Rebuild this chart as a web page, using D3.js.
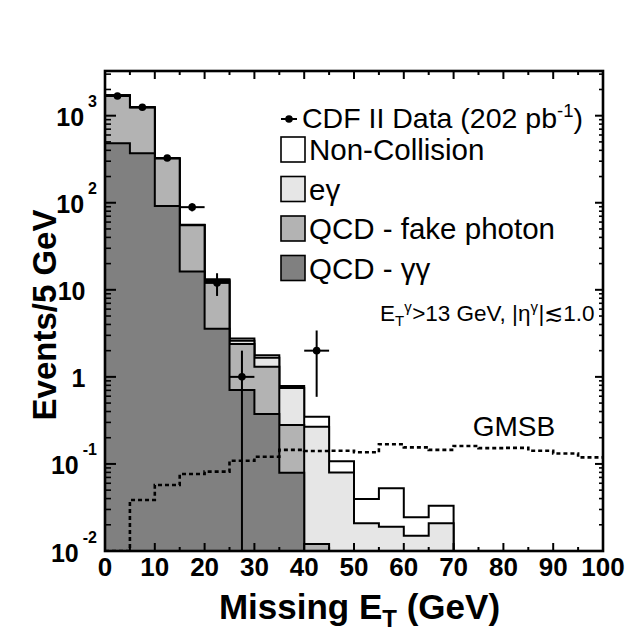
<!DOCTYPE html>
<html><head><meta charset="utf-8">
<script src="https://cdn.jsdelivr.net/npm/d3@7"></script>
<style>
html,body{margin:0;padding:0;background:#fff;}
svg{display:block;}
text{font-family:"Liberation Sans",Arial,Helvetica,sans-serif;fill:#000;}
</style></head><body>
<svg id="c" width="632" height="633"></svg>
<script>
// ---------- DATA ----------
const binLow = [0,5,10,15,20,25,30,35,40,45,50,55,60,65,70,75,80,85,90,95];
const binWidth = 5;
const qcdGammaGamma = [482,370,92,16.2,3.58,0.706,0.375,0.0794,0,0,0,0,0,0,0,0,0,0,0,0];
const qcdFakePhoton = [1230,870,230,39,9.0,1.68,0.935,0.20,0.012,0,0,0,0,0,0,0,0,0,0,0];
const eGamma        = [8,6,2,0.3,0.4,0.22,0.35,0.465,0.256,0.0797,0.0208,0.019,0.015,0.0208,0,0,0,0,0,0];
const nonCollision  = [2,2,0.5,0.2,0.2,0.16,0.11,0.041,0.081,0.028,0.0188,0.0335,0.0094,0.0123,0,0,0,0,0,0];
const dataCounts    = [1684,1250,326,89,12,1,0,0,2,0,0,0,0,0,0,0,0,0,0,0];
const dataErrUp     = [41,35.4,18.1,9.4,3.5,1,0,0,1.41,0,0,0,0,0,0,0,0,0,0,0];
const dataErrDown   = [41,35.4,18.1,9.4,3.5,1,0,0,1.41,0,0,0,0,0,0,0,0,0,0,0];
const gmsb          = [0,0.0385,0.0573,0.0766,0.0815,0.109,0.121,0.145,0.141,0.142,0.136,0.168,0.155,0.145,0.161,0.152,0.153,0.142,0.132,0.119];

const xTickValues = [0,10,20,30,40,50,60,70,80,90,100];
const xTickLabels = ["0","10","20","30","40","50","60","70","80","90","100"];
const yTickValues = [0.01,0.1,1,10,100,1000];
const yTickLabels = ["10^-2","10^-1","1","10","10^2","10^3"];
const legendNames = ["Non-Collision","e\u03b3","QCD - fake photon","QCD - \u03b3\u03b3"];
const layerColors = ["#ffffff","#e6e6e6","#b3b3b3","#808080"];

// ---------- LAYOUT ----------
const L = 105, R = 603, T = 71, B = 551;
const yMin = 0.01, yMax = 3260;
const svg = d3.select("#c");
const x = d3.scaleLinear().domain([0,100]).range([L,R]);
const y = d3.scaleLog().domain([yMin,yMax]).range([B,T]);
const yc = v => y(Math.max(v, yMin));

svg.append("defs").append("clipPath").attr("id","clip")
  .append("rect").attr("x",L).attr("y",T).attr("width",R-L).attr("height",B-T);
const plot = svg.append("g").attr("clip-path","url(#clip)");

// cumulative stacks (bottom -> top)
const comps = [qcdGammaGamma, qcdFakePhoton, eGamma, nonCollision];
const cum = [];
let run = binLow.map(()=>0);
comps.forEach(c => { run = run.map((v,i)=>v + c[i]); cum.push(run.slice()); });

const stepLine = d3.line().x(d=>x(d[0])).y(d=>yc(d[1])).curve(d3.curveStepAfter);
function stepPts(vals, closeEnds){
  const pts = [];
  if (closeEnds) pts.push([0, 0]);
  binLow.forEach((b,i)=>pts.push([b, vals[i]]));
  pts.push([binLow[binLow.length-1]+binWidth, vals[vals.length-1]]);
  if (closeEnds) pts.push([binLow[binLow.length-1]+binWidth, 0]);
  return pts;
}
const drawOrder = [3,2,1,0];
const fillFor = {3:layerColors[0],2:layerColors[1],1:layerColors[2],0:layerColors[3]};
drawOrder.forEach(k=>{
  plot.append("path").attr("d", stepLine(stepPts(cum[k], true)))
    .attr("fill", fillFor[k]).attr("stroke","#000").attr("stroke-width",2)
    .attr("stroke-linejoin","miter");
});

// GMSB dotted
plot.append("path").attr("d", stepLine(stepPts(gmsb,false)))
  .attr("fill","none").attr("stroke","#000").attr("stroke-width",2.6)
  .attr("stroke-dasharray","4,3");

// data points
const dg = plot.append("g");
dataCounts.forEach((v,i)=>{
  if (v<=0) return;
  const cx = x(binLow[i]+binWidth/2), cy = y(v);
  dg.append("line").attr("x1",x(binLow[i])).attr("x2",x(binLow[i]+binWidth))
    .attr("y1",cy).attr("y2",cy).attr("stroke","#000").attr("stroke-width",2);
  dg.append("line").attr("x1",cx).attr("x2",cx)
    .attr("y1",yc(v+dataErrUp[i])).attr("y2",yc(v-dataErrDown[i]))
    .attr("stroke","#000").attr("stroke-width",2);
  dg.append("circle").attr("cx",cx).attr("cy",cy).attr("r",3.8).attr("fill","#000");
});

// ---------- AXES / TICKS ----------
const tk = svg.append("g").attr("stroke","#000");
const xMinor = d3.range(0,101,5).filter(v=>v%10!==0);
xTickValues.forEach(v=>{
  tk.append("line").attr("x1",x(v)).attr("x2",x(v)).attr("y1",B).attr("y2",B-8).attr("stroke-width",2);
  tk.append("line").attr("x1",x(v)).attr("x2",x(v)).attr("y1",T).attr("y2",T+8).attr("stroke-width",2);
});
xMinor.forEach(v=>{
  tk.append("line").attr("x1",x(v)).attr("x2",x(v)).attr("y1",B).attr("y2",B-4).attr("stroke-width",2);
  tk.append("line").attr("x1",x(v)).attr("x2",x(v)).attr("y1",T).attr("y2",T+4).attr("stroke-width",2);
});
const yMinor = [];
for (let k=-2;k<=3;k++) for (let m=2;m<=9;m++){ const v=m*Math.pow(10,k); if (v<yMax) yMinor.push(v); }
yTickValues.forEach(v=>{
  tk.append("line").attr("x1",L).attr("x2",L+11).attr("y1",y(v)).attr("y2",y(v)).attr("stroke-width",2);
  tk.append("line").attr("x1",R).attr("x2",R-8).attr("y1",y(v)).attr("y2",y(v)).attr("stroke-width",2);
});
yMinor.forEach(v=>{
  tk.append("line").attr("x1",L).attr("x2",L+6).attr("y1",y(v)).attr("y2",y(v)).attr("stroke-width",1.6);
  tk.append("line").attr("x1",R).attr("x2",R-4).attr("y1",y(v)).attr("y2",y(v)).attr("stroke-width",1.6);
});
svg.append("rect").attr("x",L).attr("y",T).attr("width",R-L).attr("height",B-T)
  .attr("fill","none").attr("stroke","#000").attr("stroke-width",2.6);

// x tick labels
xTickValues.forEach((v,i)=>{
  svg.append("text").attr("x",x(v)).attr("y",576).attr("text-anchor","middle")
    .attr("font-size",26).attr("font-weight","bold").text(xTickLabels[i]);
});
// y tick labels
yTickValues.forEach((v,i)=>{
  const parts = yTickLabels[i].split("^");
  const t = svg.append("text").attr("y",y(v)+10.5).attr("font-size",25).attr("font-weight","bold")
    .attr("text-anchor","end");
  if (parts.length===2){
    t.attr("x",97);
    t.append("tspan").text(parts[0]);
    t.append("tspan").attr("dx",4).attr("dy",-19).attr("font-size",16).text(parts[1]);
  } else {
    t.attr("x",85.5).text(parts[0]);
  }
});

// axis titles
const xt = svg.append("text").attr("x",359.5).attr("y",619).attr("text-anchor","middle")
  .attr("font-size",35).attr("font-weight","bold");
xt.append("tspan").text("Missing E");
xt.append("tspan").attr("font-size",24).attr("dy",8).text("T");
xt.append("tspan").attr("dy",-8).text(" (GeV)");

svg.append("text").attr("transform","translate(56,315) rotate(-90)").attr("text-anchor","middle")
  .attr("font-size",33).attr("font-weight","bold").text("Events/5 GeV");

// ---------- LEGEND ----------
const lg = svg.append("g");
lg.append("line").attr("x1",281).attr("x2",297).attr("y1",119).attr("y2",119)
  .attr("stroke","#000").attr("stroke-width",2);
lg.append("circle").attr("cx",289).attr("cy",119).attr("r",3.8).attr("fill","#000");
const dt = lg.append("text").attr("x",302).attr("y",127.5).attr("font-size",28.5);
dt.append("tspan").text("CDF II Data (202 pb");
dt.append("tspan").attr("font-size",18.5).attr("dy",-11).text("-1");
dt.append("tspan").attr("dy",11).text(")");

const rowCenters = [149.5,189,228.5,268];
legendNames.forEach((n,i)=>{
  lg.append("rect").attr("x",281).attr("y",rowCenters[i]-12.5).attr("width",24).attr("height",25)
    .attr("fill",layerColors[i]).attr("stroke","#000").attr("stroke-width",1.6);
  lg.append("text").attr("x",309).attr("y",rowCenters[i]+10.5).attr("font-size",29.5).text(n);
});

// cut text: E_T^gamma > 13 GeV, |eta^gamma| <~ 1.0
(function(){
  const fs = 22.5, small = 15;
  const t = svg.append("text").attr("x",380).attr("y",320.5).attr("font-size",fs);
  t.append("tspan").text("E");
  t.append("tspan").attr("font-size",small).attr("dy",5).text("T");
  t.append("tspan").attr("font-size",small).attr("dy",-14).text("\u03b3");
  t.append("tspan").attr("dx",0.5).attr("dy",9).text(">13 GeV, |\u03b7");
  t.append("tspan").attr("font-size",small).attr("dy",-9).text("\u03b3");
  t.append("tspan").attr("dx",0.5).attr("dy",9).text("|\u22721.0");
})();

svg.append("text").attr("x",472.7).attr("y",436).attr("font-size",28).text("GMSB");
</script>
</body></html>
